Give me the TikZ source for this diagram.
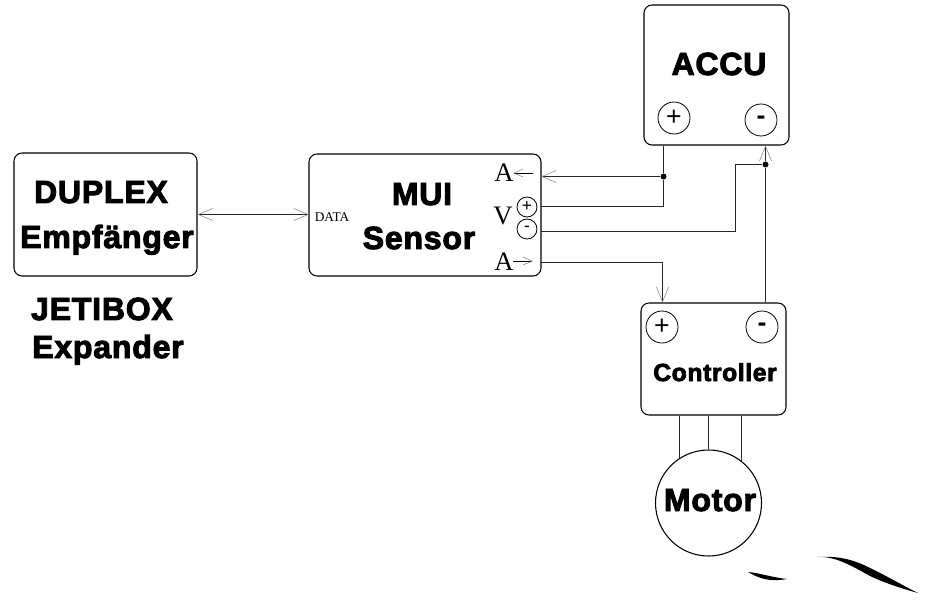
\documentclass[tikz,border=0pt]{standalone}
\usepackage{fontspec}
\setmainfont{Liberation Sans}
\newfontfamily\heavyfont[FakeBold=3,LetterSpace=2.5]{Liberation Sans Bold}
\newfontfamily\thinfont{Liberation Serif}
\usetikzlibrary{arrows.meta}
\tikzset{
  box/.style={draw,line width=0.8pt,rounded corners=6pt,inner sep=0pt},
  pole/.style={draw,circle,line width=0.6pt,inner sep=0pt,minimum size=24pt,font=\fontsize{20}{20}\selectfont},
  smallpole/.style={draw,circle,line width=0.6pt,inner sep=0pt,minimum size=15pt,font=\fontsize{13}{13}\selectfont},
  bigtext/.style={anchor=base,inner sep=0pt,font=\heavyfont\fontsize{24}{24}\selectfont},
  midtext/.style={anchor=base,inner sep=0pt,font=\heavyfont\fontsize{18.5}{18.5}\selectfont},
  pintext/.style={anchor=base,inner sep=0pt,font=\thinfont\fontsize{20}{20}\selectfont},
  wire/.style={line width=0.9pt,black!85},
  dot/.style={circle,fill=black,inner sep=0pt,minimum size=4.5pt},
  graytip/.style={-{Straight Barb[gray,line width=0.4pt,length=11pt,width=9pt]}},
  bothtips/.style={{Straight Barb[gray,line width=0.4pt,length=11pt,width=9pt]}-{Straight Barb[gray,line width=0.4pt,length=11pt,width=9pt]}},
  smalltip/.style={-{Straight Barb[gray,line width=0.4pt,length=7pt,width=6pt]}},
}
\begin{document}
\begin{tikzpicture}[x=0.75pt,y=0.75pt,yscale=-1,xscale=1]
\useasboundingbox (0,0) rectangle (928,602);

% boxes
\node (duplex) [box,minimum width=137.25pt,minimum height=92.25pt] at (105.5,214.5) {};
\node (mui) [box,minimum width=174pt,minimum height=91.5pt] at (425,215) {};
\node (accu) [box,minimum width=108.75pt,minimum height=105pt] at (716.5,75) {};
\node (ctrl) [box,minimum width=108.75pt,minimum height=84pt] at (713.5,359) {};
\node (motor) [draw,circle,line width=0.8pt,inner sep=0pt,minimum size=79.5pt] at (708.5,503) {};

% texts
\node (t1) [bigtext] at (101,203) {DUPLEX};
\node (t2) [bigtext] at (107,248) {Empfänger};
\node (t3) [bigtext] at (102,320) {JETIBOX};
\node (t4) [bigtext] at (108,358) {Expander};
\node (t5) [bigtext] at (422,205) {MUI};
\node (t6) [bigtext] at (419,249) {Sensor};
\node (t7) [bigtext] at (719,75) {ACCU};
\node (t8) [midtext] at (715,381) {Controller};
\node (t9) [bigtext] at (710,511) {Motor};
\node (dataText) [anchor=base,inner sep=0pt,font=\thinfont\fontsize{10}{10}\selectfont] at (332,222) {DATA};

% poles
\node (accuPlus) [pole] at (674,118) {+};
\node (accuMinus) [pole] at (761,120) {\textbf{-}};
\node (ctrlPlus) [pole] at (662,327) {+};
\node (ctrlMinus) [pole] at (762,327) {\textbf{-}};
\node (muiPlus) [smallpole] at (527,207) {+};
\node (muiMinus) [smallpole] at (527,229) {-};
\node (aIn) [pintext] at (504,182) {A};
\node (vPin) [pintext] at (503,225) {V};
\node (aOut) [pintext] at (504,271) {A};

% junctions
\node (jPlus) [dot] at (663.5,176.5) {};
\node (jMinus) [dot] at (765.5,164.5) {};

% free ends and bends
\coordinate (muiA) at (541,176.5);
\coordinate (muiV) at (541,206.5);
\coordinate (muiG) at (541,231.5);
\coordinate (muiO) at (541,262.5);
\coordinate (muiD) at (309,214.5);
\coordinate (bendG) at (735.5,231.5);
\coordinate (bendO) at (662.5,262.5);
\coordinate (aInEnd) at (533,173);
\coordinate (aInTip) at (513,173);
\coordinate (aOutEnd) at (513,261);
\coordinate (aOutTip) at (533,261);

% wires
\draw [wire,bothtips] (duplex.east |- muiD) -- (muiD);
\draw [wire] (accu.south -| jPlus) -- (jPlus);
\draw [wire,graytip] (jPlus) -- (muiA);
\draw [wire] (jPlus) -- (jPlus |- muiV) -- (muiV);
\draw [wire] (muiG) -- (bendG) -- (bendG |- jMinus) -- (jMinus);
\draw [wire] (ctrl.north -| jMinus) -- (jMinus);
\draw [wire,graytip] (jMinus) -- (accu.south -| jMinus);
\draw [wire] (muiO) -- (bendO);
\draw [wire,graytip] (bendO) -- (ctrl.north -| bendO);
\draw [wire] (ctrl.south -| motor.123.8) -- (motor.123.8);
\draw [wire] (ctrl.south -| motor.north) -- (motor.north);
\draw [wire] (ctrl.south -| motor.52.2) -- (motor.52.2);
\draw [line width=0.5pt,smalltip] (aInEnd) -- (aInTip);
\draw [line width=0.5pt,smalltip] (aOutEnd) -- (aOutTip);

% scan marks
\fill (817,557) .. controls (835,556) and (850,565) .. (870,576) .. controls (885,583) and (900,588) .. (918,593) .. controls (900,584) and (885,575) .. (868,567) .. controls (850,558) and (835,556) .. (817,557) -- cycle;
\fill (748,572) .. controls (760,573) and (770,577) .. (787,579) .. controls (770,582) and (760,579) .. (748,572) -- cycle;
\end{tikzpicture}
\end{document}
